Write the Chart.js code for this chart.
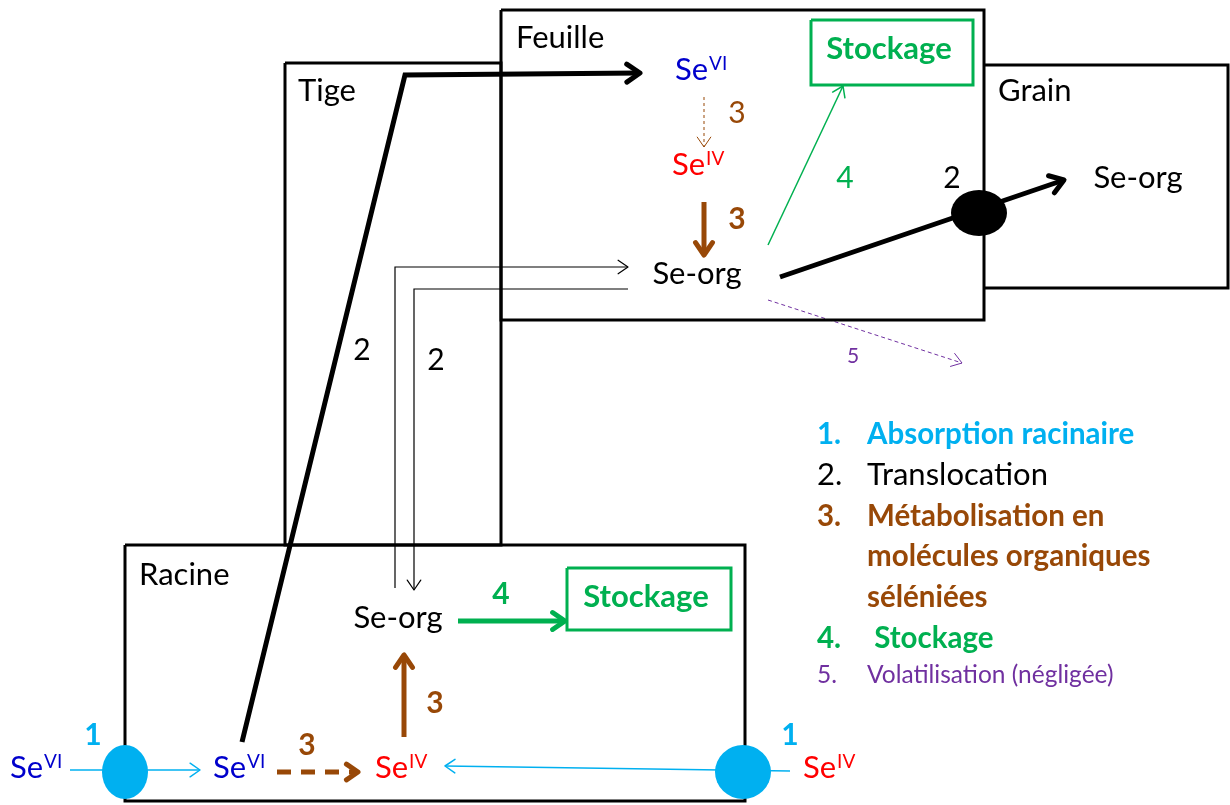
<!DOCTYPE html>
<html>
<head>
<meta charset="utf-8">
<script src="https://cdn.jsdelivr.net/npm/chart.js@4/dist/chart.umd.min.js"></script>
<style>html,body{margin:0;padding:0;background:#fff}canvas{display:block}</style>
</head>
<body>
<canvas id="schema" width="1230" height="805"></canvas>
<script>
// compartiments de la plante
var boxTige = [[285,63],[501,63],[501,545],[285,545],[285,63]];
var boxFeuille = [[501,10],[984,10],[984,320],[501,320],[501,10]];
var boxGrain = [[984,65],[1228,65],[1228,288],[984,288]];
var boxRacine = [[125,545],[745,545],[745,801],[125,801],[125,545]];
var stockFeuille = [[811,20],[973,20],[973,85],[811,85],[811,20]];
var stockRacine = [[567,568],[731,568],[731,630],[567,630],[567,568]];

// flux (2 = translocation)
var transloc2Tige = [[242,742],[405,75],[640,73]];
var transloc2Grain = [[780,277],[1064,180]];
var transloc2Monte = [[395,588],[395,267],[628,267]];
var transloc2Descend = [[628,289],[414,289],[414,590]];
// 1 = absorption
var absorbVI = [[70,770],[200,770]];
var absorbIV = [[790,771],[445,766]];
// 3 = metabolisation
var metaRacineVI = [[277,772],[358,772]];
var metaRacineIV = [[404,737],[404,655]];
var metaFeuilleVI = [[704,97],[704,147]];
var metaFeuilleIV = [[704,202],[704,255]];
// 4 = stockage, 5 = volatilisation
var stockRac = [[458,621],[565,621]];
var stockFeu = [[768,245],[843,86]];
var volat = [[768,300],[962,363]];

// transporteurs (ellipses)
var transporteurs = [[125,772,23,27,'#00b0f0'],[743,772,28,27,'#00b0f0'],[979,213,28,23,'#000']];

// textes
var titres = [['Feuille',516,48],['Tige',298,101],['Grain',998,101],['Racine',139,585]];
var seNodes = [['VI',675,80,'#0000cc'],['IV',672,175,'#ff0000'],['VI',10,778,'#0000cc'],['VI',213,778,'#0000cc'],['IV',375,778,'#ff0000'],['IV',803,778,'#ff0000']];
var seOrg = [[697,274],[1138,178],[398,618]];
var numeros = [['3',737,113,'#984807',false],['3',737,219,'#984807',true],['4',845,178,'#00b050',false],
  ['2',952,178,'#000',false],['5',853,356,'#7030a0',false,21],['2',362,350,'#000',false],['2',436,360,'#000',false],
  ['4',501,594,'#00b050',true],['3',435,703,'#984807',true],['3',307,745,'#984807',true],['1',93,735,'#00b0f0',true],['1',790,735,'#00b0f0',true]];
var legendeNum = ['1.','2.','3.','','','4.','5.'];
var legendeTxt = ['Absorption racinaire','Translocation','Métabolisation en','molécules organiques','séléniées',' Stockage','Volatilisation (négligée)'];
var legendeCol = ['#00b0f0','#000','#984807','#984807','#984807','#00b050','#7030a0'];
var legendeBold = [true,false,true,true,true,true,false];

var FONT = 'Lato, "Open Sans", sans-serif';

function pts(a) {
  return a.map(function(p){ return {x:p[0], y:p[1]}; });
}
function trace(a, color, width, dash, head) {
  return {data: pts(a), showLine: true, borderColor: color, borderWidth: width, borderDash: dash || [],
    pointRadius: 0, fill: false, tension: 0, borderJoinStyle: 'miter', borderCapStyle: 'butt', head: head || 0};
}

var datasets = [
  trace(boxTige,'#000',3), trace(boxFeuille,'#000',3), trace(boxGrain,'#000',3), trace(boxRacine,'#000',3),
  trace(stockFeuille,'#00b050',3), trace(stockRacine,'#00b050',3),
  trace(transloc2Tige,'#000',5,null,16), trace(transloc2Grain,'#000',5,null,16),
  trace(transloc2Monte,'#000',1.2,null,12), trace(transloc2Descend,'#000',1.2,null,12),
  trace(absorbVI,'#00b0f0',1.5,null,12), trace(absorbIV,'#00b0f0',1.5,null,12),
  trace(metaRacineVI,'#984807',5,[14,10],14), trace(metaRacineIV,'#984807',5,null,15),
  trace(metaFeuilleVI,'#984807',1,[3,3],12), trace(metaFeuilleIV,'#984807',5,null,15),
  trace(stockRac,'#00b050',5,null,15), trace(stockFeu,'#00b050',1.5,null,12),
  trace(volat,'#7030a0',1,[4,3],12)
];

var dessin = {
  id: 'dessin',
  afterDatasetsDraw: function(chart) {
    var ctx = chart.ctx, xs = chart.scales.x, ys = chart.scales.y;
    function X(v){ return xs.getPixelForValue(v); }
    function Y(v){ return ys.getPixelForValue(v); }
    ctx.save();
    // pointes de fleches
    chart.data.datasets.forEach(function(ds) {
      if (!ds.head) return;
      var n = ds.data.length, a = ds.data[n-2], b = ds.data[n-1];
      var bx = X(b.x), by = Y(b.y);
      var ang = Math.atan2(by - Y(a.y), bx - X(a.x));
      ctx.setLineDash([]);
      ctx.strokeStyle = ds.borderColor;
      ctx.lineWidth = ds.borderWidth;
      ctx.lineCap = 'round';
      ctx.lineJoin = 'round';
      ctx.beginPath();
      ctx.moveTo(bx - ds.head*Math.cos(ang-0.6), by - ds.head*Math.sin(ang-0.6));
      ctx.lineTo(bx, by);
      ctx.lineTo(bx - ds.head*Math.cos(ang+0.6), by - ds.head*Math.sin(ang+0.6));
      ctx.stroke();
    });
    // transporteurs
    transporteurs.forEach(function(e) {
      ctx.fillStyle = e[4];
      ctx.beginPath();
      ctx.ellipse(X(e[0]), Y(e[1]), e[2], e[3], 0, 0, Math.PI*2);
      ctx.fill();
    });
    // textes
    ctx.textAlign = 'left';
    ctx.textBaseline = 'alphabetic';
    ctx.fillStyle = '#000';
    ctx.font = '31px ' + FONT;
    titres.forEach(function(t){ ctx.fillText(t[0], X(t[1]), Y(t[2])); });
    seNodes.forEach(function(s) {
      ctx.fillStyle = s[3];
      ctx.font = '31px ' + FONT;
      ctx.fillText('Se', X(s[1]), Y(s[2]));
      var w = ctx.measureText('Se').width;
      ctx.font = '19px ' + FONT;
      ctx.fillText(s[0], X(s[1]) + w + 1, Y(s[2]) - 10);
    });
    ctx.textAlign = 'center';
    ctx.textBaseline = 'middle';
    ctx.fillStyle = '#000';
    ctx.font = '31px ' + FONT;
    seOrg.forEach(function(s){ ctx.fillText('Se-org', X(s[0]), Y(s[1])); });
    ctx.font = 'bold 31px ' + FONT;
    ctx.fillStyle = '#00b050';
    ctx.fillText('Stockage', X(889), Y(49));
    ctx.fillText('Stockage', X(646), Y(597));
    numeros.forEach(function(n) {
      ctx.fillStyle = n[3];
      ctx.font = (n[4] ? 'bold ' : '') + (n[5] || 30) + 'px ' + FONT;
      ctx.fillText(n[0], X(n[1]), Y(n[2]));
    });
    // legende
    ctx.textAlign = 'left';
    ctx.textBaseline = 'alphabetic';
    var bases = [444,485,526,566,607,648,683];
    legendeTxt.forEach(function(t, i) {
      var size = i === 6 ? 24.5 : (legendeBold[i] ? 29.5 : 31);
      ctx.fillStyle = legendeCol[i];
      ctx.font = (legendeBold[i] ? 'bold ' : '') + size + 'px ' + FONT;
      ctx.fillText(legendeNum[i], X(817), Y(bases[i]));
      ctx.fillText(t, X(867), Y(bases[i]));
    });
    ctx.restore();
  }
};

new Chart('schema', {
  type: 'scatter',
  data: {datasets: datasets},
  options: {
    responsive: false,
    animation: false,
    events: [],
    layout: {padding: 0},
    plugins: {legend: {display: false}, tooltip: {enabled: false}},
    scales: {
      x: {type: 'linear', min: 0, max: 1230, display: false},
      y: {type: 'linear', min: 0, max: 805, reverse: true, display: false}
    }
  },
  plugins: [dessin]
});
</script>
</body>
</html>
